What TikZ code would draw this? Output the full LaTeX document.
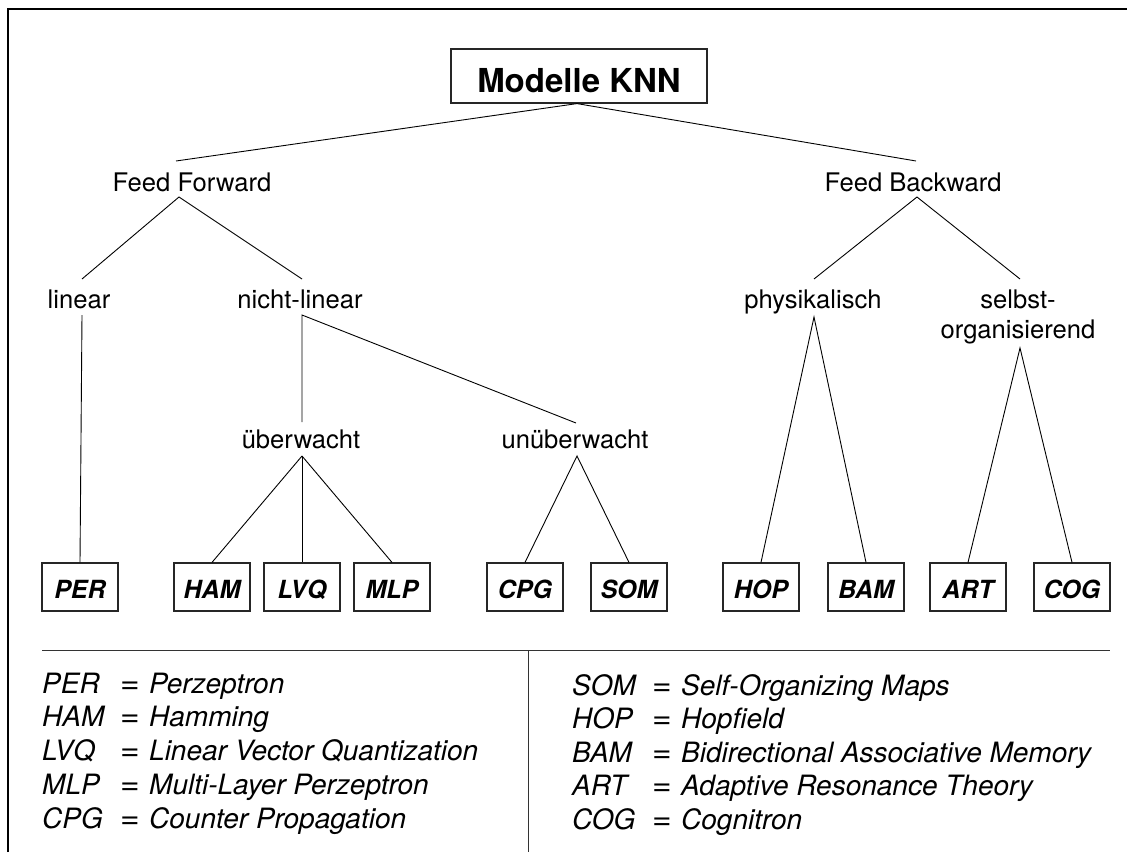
\documentclass[tikz,border=0pt]{standalone}
\usepackage{fontspec}
\setmainfont{TeX Gyre Heros}
\usetikzlibrary{calc}
\begin{document}
\begin{tikzpicture}[x=1pt,y=-1pt,
  lbl/.style={inner sep=0pt, anchor=base, font=\fontsize{25.6}{30}\selectfont},
  abox/.style={draw=black!85, line width=1.2pt, minimum width=76pt, minimum height=48pt, inner sep=0pt, text height=22pt, text depth=0pt, font=\bfseries\itshape\fontsize{25}{30}\selectfont},
  tbox/.style={draw=black!85, line width=1.2pt, minimum width=256pt, minimum height=54pt, inner sep=0pt, text height=32pt, text depth=0pt, font=\bfseries\fontsize{33}{40}\selectfont},
  conn/.style={line width=0.9pt},
  leg/.style={inner sep=0pt, anchor=base west, font=\itshape\fontsize{28}{34}\selectfont},
  legeq/.style={inner sep=0pt, anchor=base west, font=\fontsize{28}{34}\selectfont},
  rule/.style={line width=1pt, draw=black!80}]
\useasboundingbox (0,0) rectangle (1127,852);
% frame
\draw[line width=1.4pt] (8,852) -- (8,9) -- (1127,9);

% nodes
\node[tbox] (title) at (579,76) {Modelle KNN};
\node[lbl] (ff) at (192,191) {Feed Forward};
\node[lbl] (fb) at (913,191) {Feed Backward};
\node[lbl] (lin) at (79,308) {linear};
\node[lbl] (nl) at (300,308) {nicht-linear};
\node[lbl] (phys) at (813,308) {physikalisch};
\node[lbl, align=center] (selb) at (1018,338) {selbst-\\organisierend};
\node[lbl] (ueb) at (301,448) {überwacht};
\node[lbl] (unueb) at (575,448) {unüberwacht};

\node[abox] (per) at (80,587) {PER};
\node[abox] (ham) at (212,587) {HAM};
\node[abox] (lvq) at (302,587) {LVQ};
\node[abox] (mlp) at (392,587) {MLP};
\node[abox] (cpg) at (525,587) {CPG};
\node[abox] (som) at (629,587) {SOM};
\node[abox] (hop) at (761,587) {HOP};
\node[abox] (bam) at (866,587) {BAM};
\node[abox] (art) at (968,587) {ART};
\node[abox] (cog) at (1072,587) {COG};

% connectors
\draw[conn] ([xshift=-2pt]title.south) -- ($(ff.base)+(-16,-30)$);
\draw[conn] ([xshift=-2pt]title.south) -- ($(fb.base)+(3,-30)$);
\draw[conn] ($(lin.base)+(3,-29)$) -- ($(ff.base)+(-13,6)$) -- ($(nl.base)+(2,-29)$);
\draw[conn] ($(phys.base)+(1,-29)$) -- ($(fb.base)+(4,6)$) -- ($(selb.base)+(2,-59)$);
\draw[conn] ($(lin.base)+(3,7)$) -- (per.north);
\draw[conn] ($(ueb.base)+(1,-26)$) -- ($(nl.base)+(2,7)$) -- ($(unueb.base)+(1,-25)$);
\draw[conn] ($(ueb.base)+(1,8)$) -- (ham.north);
\draw[conn] ($(ueb.base)+(1,8)$) -- (lvq.north);
\draw[conn] ($(ueb.base)+(1,8)$) -- (mlp.north);
\draw[conn] (cpg.north) -- ($(unueb.base)+(2,8)$) -- (som.north);
\draw[conn] (hop.north) -- ($(phys.base)+(1,9)$) -- (bam.north);
\draw[conn] (art.north) -- ($(selb.base)+(2,10)$) -- (cog.north);

% legend rules
\coordinate (hl) at (42,650);
\coordinate (hr) at (1110,650);
\coordinate (vt) at (528,650);
\coordinate (vb) at (528,852);
\draw[rule] (hl) -- (hr);
\draw[rule] (vt) -- (vb);

% legend text
\foreach \ab/\de [count=\i] in {PER/Perzeptron, HAM/Hamming, LVQ/Linear Vector Quantization, MLP/Multi-Layer Perzeptron, CPG/Counter Propagation} {
  \node[leg] (la\i) at (42,{693+(\i-1)*33.8}) {\ab};
  \node[legeq] (le\i) at (120,{693+(\i-1)*33.8}) {\scalebox{1.2}[1.1]{=}};
  \node[leg] (ld\i) at (149,{693+(\i-1)*33.8}) {\de};
}
\foreach \ab/\de [count=\i] in {SOM/Self-Organizing Maps, HOP/Hopfield, BAM/Bidirectional Associative Memory, ART/Adaptive Resonance Theory, COG/Cognitron} {
  \node[leg] (ra\i) at (572,{695+(\i-1)*33.5}) {\ab};
  \node[legeq] (re\i) at (652,{695+(\i-1)*33.5}) {\scalebox{1.2}[1.1]{=}};
  \node[leg] (rd\i) at (681,{695+(\i-1)*33.5}) {\de};
}
\end{tikzpicture}
\end{document}
